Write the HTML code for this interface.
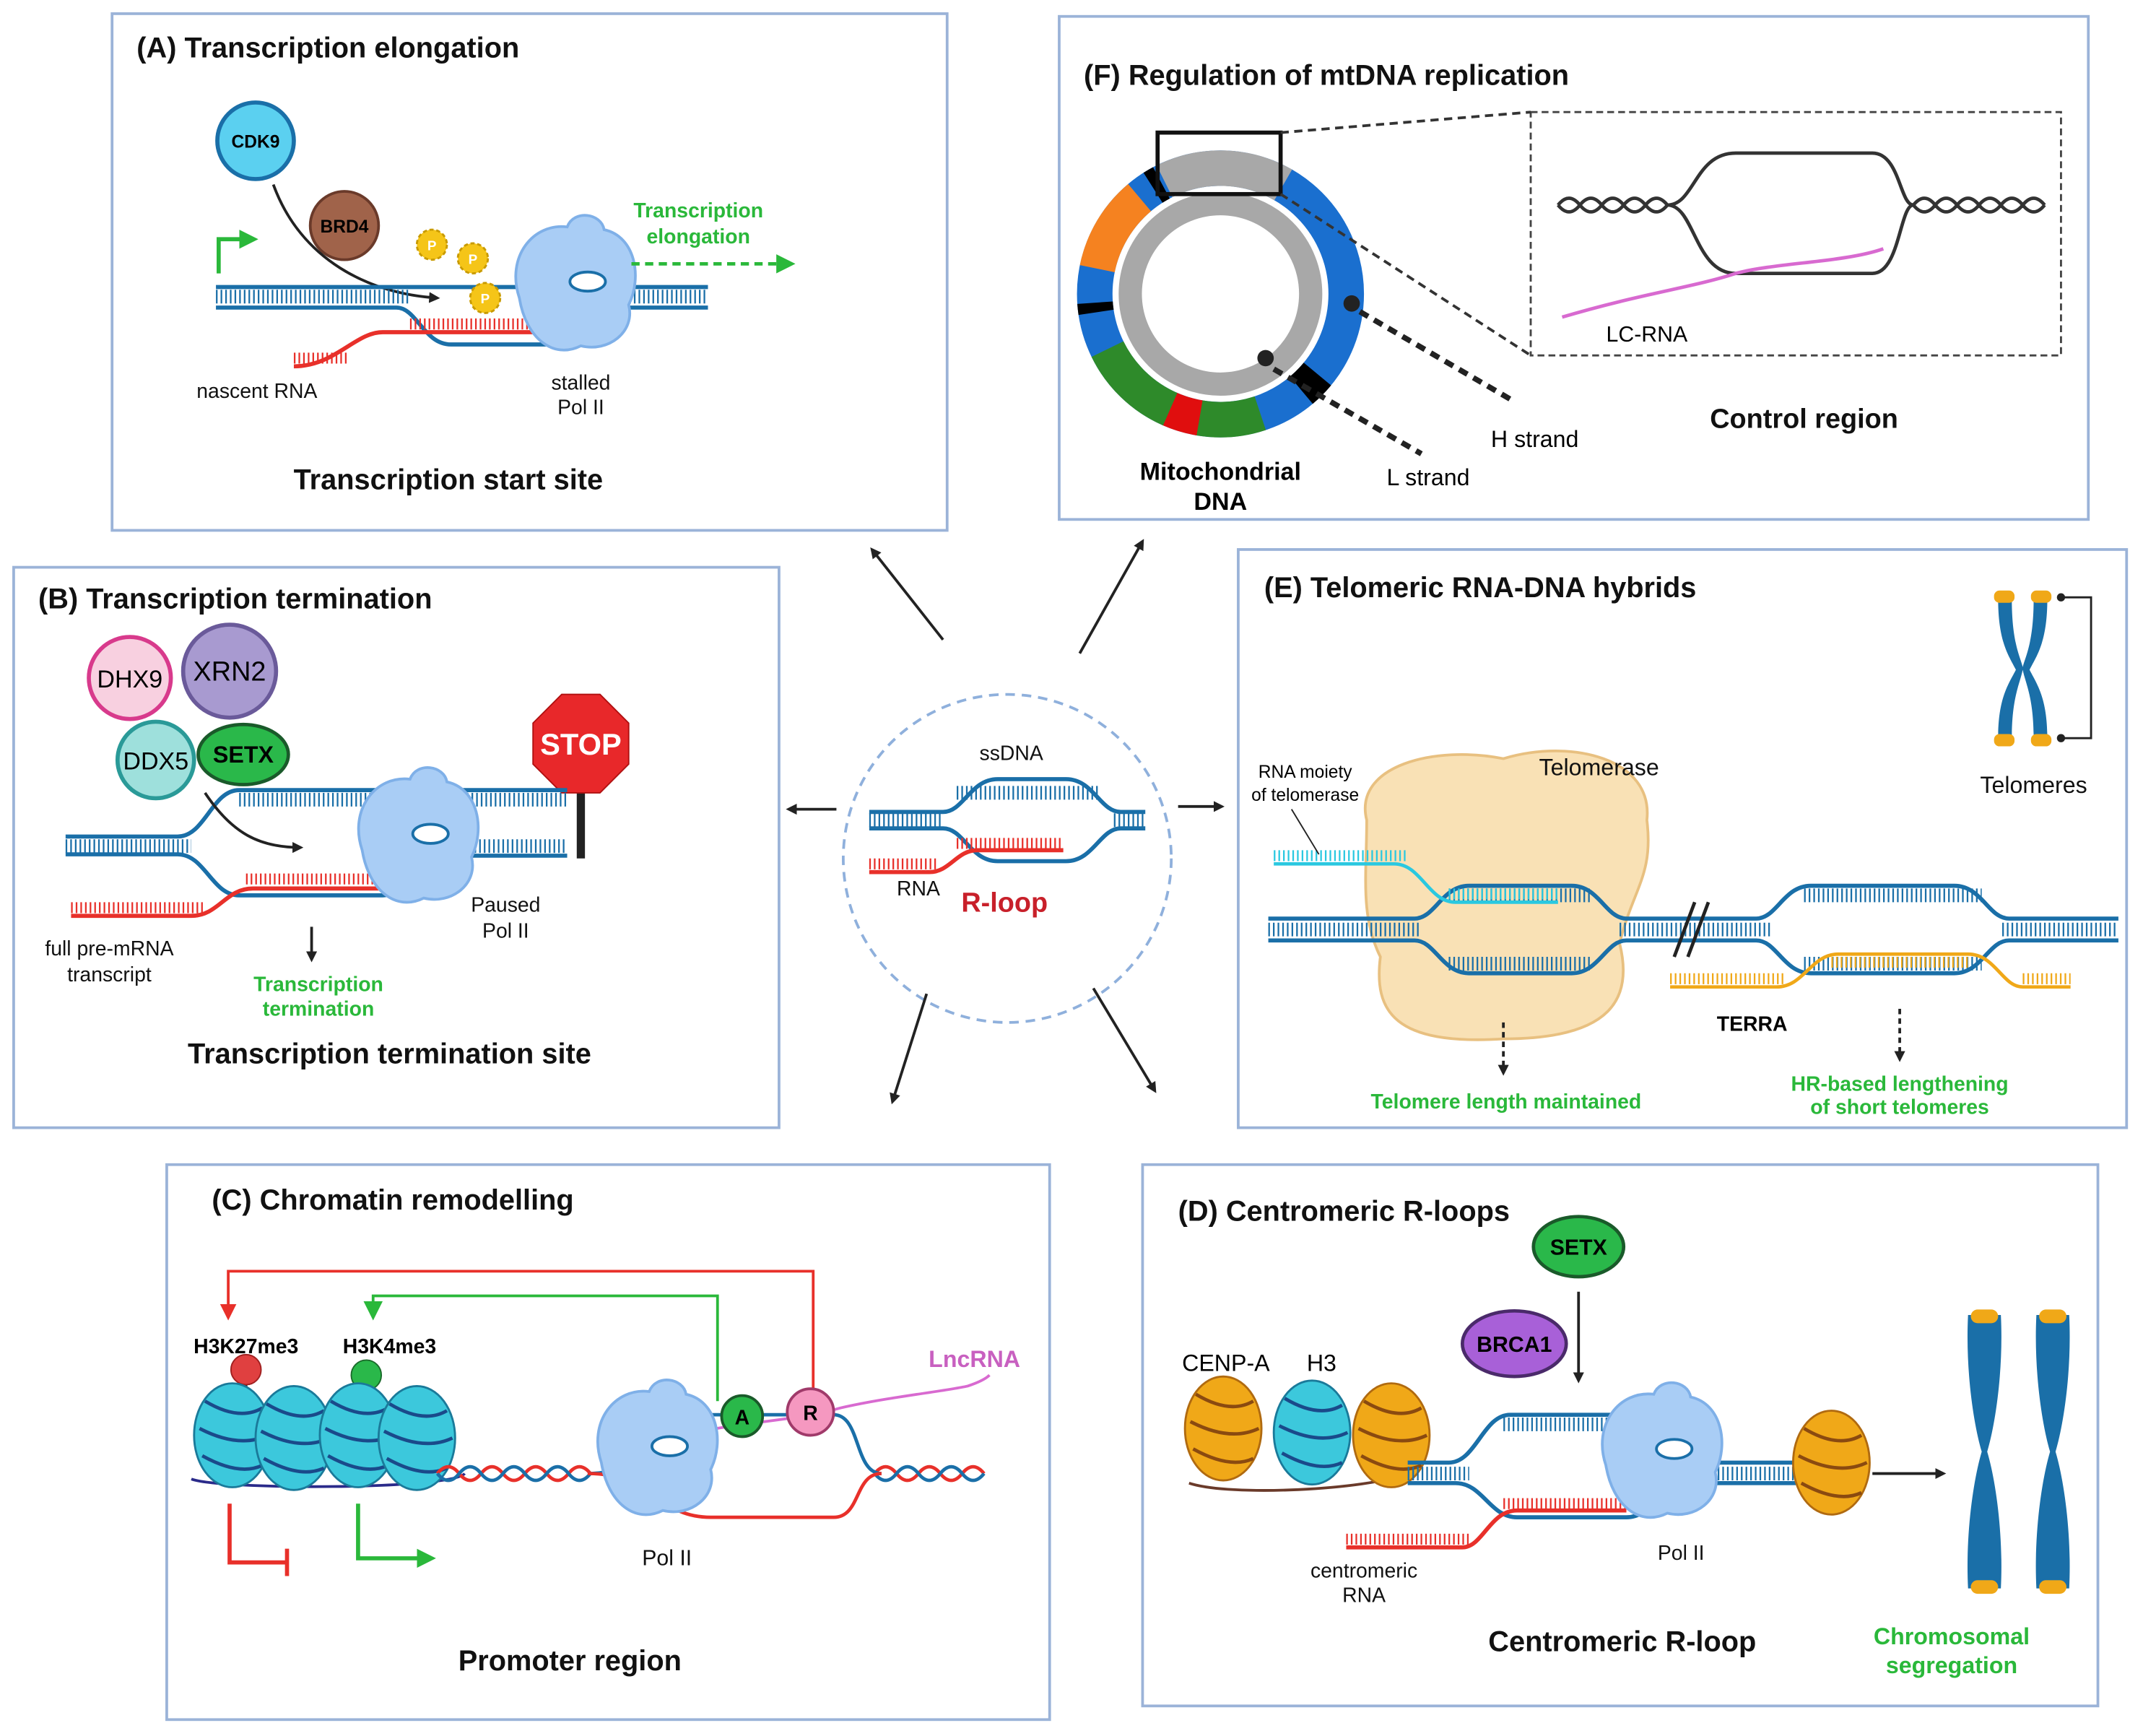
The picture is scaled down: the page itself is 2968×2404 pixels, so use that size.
<!DOCTYPE html>
<html><head><meta charset="utf-8"><style>
html,body{margin:0;padding:0;background:#fff}
svg{display:block}
text{font-family:"Liberation Sans",sans-serif}
.t{font-weight:bold;font-size:21px;fill:#111}
.b{font-weight:bold;font-size:21px;fill:#111;text-anchor:middle}
.s{font-size:15px;fill:#111;text-anchor:middle}
.g{font-weight:bold;font-size:15px;fill:#2ab83a;text-anchor:middle}
.panel{fill:#fff;stroke:#9bb3d8;stroke-width:2}
.dl{stroke:#1a6fa8;stroke-width:3;fill:none}
.tk{stroke:#1a6fa8;stroke-width:10;stroke-dasharray:1.2 2.2;fill:none}
.rk{stroke:#e8302a;stroke-width:8;stroke-dasharray:1.2 2.2;fill:none}
.rl{stroke:#e8302a;stroke-width:3;fill:none}
</style></head><body>
<svg width="2968" height="2404" viewBox="0 0 1568 1270" preserveAspectRatio="none" xmlns="http://www.w3.org/2000/svg">
<defs>
<marker id="ar" markerWidth="8" markerHeight="8" refX="6" refY="4" orient="auto" markerUnits="userSpaceOnUse"><path d="M0,0 L8,4 L0,8z" fill="#222"/></marker>
<marker id="ag" markerWidth="14" markerHeight="14" refX="10" refY="7" orient="auto" markerUnits="userSpaceOnUse"><path d="M0,0 L14,7 L0,14z" fill="#2ab83a"/></marker>
<marker id="arr" markerWidth="12" markerHeight="12" refX="8" refY="6" orient="auto" markerUnits="userSpaceOnUse"><path d="M0,0 L12,6 L0,12z" fill="#e8302a"/></marker>
<g id="pol">
<path d="M-40,10 C-50,-20 -30,-45 -5,-42 C0,-55 20,-52 22,-40 C45,-35 50,-5 40,15 C45,35 25,50 5,45 C-15,55 -35,40 -40,10z" fill="#a9cdf5" stroke="#7fb0e8" stroke-width="2"/>
<ellipse cx="10" cy="-2" rx="13" ry="7" fill="#fff" stroke="#1a6fa8" stroke-width="2"/>
</g>
<g id="nuc">
<ellipse cx="0" cy="0" rx="28" ry="38" fill="#3cc8dc" stroke="#1a7a9a" stroke-width="1.5"/>
<path d="M-20,-25 Q5,-10 22,-20 M-24,-5 Q5,10 26,0 M-22,15 Q5,30 22,22" stroke="#1a4a8a" stroke-width="2.5" fill="none"/>
</g>
<g id="nuco">
<ellipse cx="0" cy="0" rx="28" ry="38" fill="#f0a818" stroke="#b06a10" stroke-width="1.5"/>
<path d="M-20,-25 Q5,-10 22,-20 M-24,-5 Q5,10 26,0 M-22,15 Q5,30 22,22" stroke="#8a4a10" stroke-width="2.5" fill="none"/>
</g>
<g id="chrom">
<path d="M-12,0 C-14,40 -8,80 -2,100 C-8,120 -14,160 -12,200 L12,200 C14,160 8,120 2,100 C8,80 14,40 12,0z" fill="#1a6fa8"/>
<rect x="-10" y="-4" width="20" height="10" rx="5" fill="#f0a818"/>
<rect x="-10" y="194" width="20" height="10" rx="5" fill="#f0a818"/>
</g>
</defs>

<rect class="panel" x="82" y="10" width="611" height="378"/>
<rect class="panel" x="775" y="12" width="753" height="368"/>
<rect class="panel" x="10" y="415" width="560" height="410"/>
<rect class="panel" x="906" y="402" width="650" height="423"/>
<rect class="panel" x="122" y="852" width="646" height="406"/>
<rect class="panel" x="836" y="852" width="699" height="396"/>

<circle cx="737" cy="628" r="120" fill="none" stroke="#8fb0dc" stroke-width="2" stroke-dasharray="7 5"/>
<path class="dl" d="M636,594 H690 C705,594 710,570 730,570 H780 C800,570 805,594 820,594 H838"/>
<path class="tk" d="M636,600 H690 M700,580 H805 M815,600 H838"/>
<path class="dl" d="M636,606 H690 C705,606 710,630 730,630 H780 C800,630 805,606 820,606 H838"/>
<path class="rk" d="M700,617 H778"/>
<path class="rl" d="M636,638 H680 C695,638 700,622 715,622 H778"/>
<path class="rk" d="M636,632 H685"/>
<text class="s" x="740" y="556">ssDNA</text>
<text class="s" x="672" y="655">RNA</text>
<text x="735" y="667" style="font-weight:bold;font-size:20px;fill:#c8202a;text-anchor:middle">R-loop</text>
<g stroke="#222" stroke-width="2" marker-end="url(#ar)">
<line x1="690" y1="468" x2="638" y2="402"/><line x1="790" y1="478" x2="836" y2="396"/>
<line x1="612" y1="592" x2="577" y2="592"/><line x1="862" y1="590" x2="894" y2="590"/>
<line x1="678" y1="727" x2="653" y2="806"/><line x1="800" y1="723" x2="845" y2="798"/>
</g>

<!-- A -->
<text class="t" x="100" y="42">(A) Transcription elongation</text>
<circle cx="187" cy="103" r="28" fill="#5bd0f0" stroke="#1a6fa8" stroke-width="3"/>
<text x="187" y="108" style="font-weight:bold;font-size:13px;text-anchor:middle">CDK9</text>
<circle cx="252" cy="165" r="25" fill="#a0634a" stroke="#6a3a2a" stroke-width="2"/>
<text x="252" y="170" style="font-weight:bold;font-size:13px;text-anchor:middle">BRD4</text>
<path d="M200,135 C220,190 270,215 320,218" stroke="#222" stroke-width="2" fill="none" marker-end="url(#ar)"/>
<path class="dl" d="M158,210 H518"/><path class="tk" d="M158,217 H300 M440,217 H518"/>
<path class="dl" d="M158,225 H290 C305,225 310,252 330,252 H420 C435,252 440,225 455,225 H518"/>
<path class="rk" d="M300,237 H430"/>
<path class="rl" d="M215,268 C245,268 260,243 280,243 H430"/>
<path class="rk" d="M215,262 H255"/>
<path d="M160,200 V175 H185" stroke="#2ab83a" stroke-width="3" fill="none" marker-end="url(#ag)"/>
<use href="#pol" x="420" y="208"/>
<g fill="#f5c518" stroke="#c89a00" stroke-width="1.5" stroke-dasharray="3 2"><circle cx="316" cy="179" r="11"/><circle cx="346" cy="189" r="11"/><circle cx="355" cy="218" r="11"/></g>
<g style="font-size:10px;fill:#fff;font-weight:bold;text-anchor:middle"><text x="316" y="183">P</text><text x="346" y="193">P</text><text x="355" y="222">P</text></g>
<line x1="462" y1="193" x2="578" y2="193" stroke="#2ab83a" stroke-width="2.5" stroke-dasharray="6 4" marker-end="url(#ag)"/>
<text class="g" x="511" y="159">Transcription</text><text class="g" x="511" y="178">elongation</text>
<text class="s" x="188" y="291">nascent RNA</text>
<text class="s" x="425" y="285">stalled</text><text class="s" x="425" y="303">Pol II</text>
<text class="b" x="328" y="358">Transcription start site</text>

<!-- F -->
<text class="t" x="793" y="62">(F) Regulation of mtDNA replication</text>
<g fill="none" stroke-width="26" transform="translate(893,215)">
<circle r="92" stroke="#1a6fcf"/>
<circle r="92" pathLength="360" stroke="#000" stroke-dasharray="10 350" transform="rotate(40)"/>
<circle r="92" pathLength="360" stroke="#2e8a2a" stroke-dasharray="28 332" transform="rotate(72)"/>
<circle r="92" pathLength="360" stroke="#e00e0e" stroke-dasharray="14 346" transform="rotate(100)"/>
<circle r="92" pathLength="360" stroke="#2e8a2a" stroke-dasharray="40 320" transform="rotate(114)"/>
<circle r="92" pathLength="360" stroke="#f58220" stroke-dasharray="38 322" transform="rotate(192)"/>
<circle r="92" pathLength="360" stroke="#000" stroke-dasharray="4 356" transform="rotate(172)"/>
<circle r="92" pathLength="360" stroke="#000" stroke-dasharray="4 356" transform="rotate(238)"/>
<circle r="92" pathLength="360" stroke="#a8a8a8" stroke-dasharray="56 304" transform="rotate(244)"/>
<circle r="66" stroke="#a8a8a8" stroke-width="17"/>
</g>
<circle cx="989" cy="222" r="6" fill="#222"/><circle cx="926" cy="262" r="6" fill="#222"/>
<rect x="847" y="97" width="90" height="45" fill="none" stroke="#111" stroke-width="3"/>
<rect x="1120" y="82" width="388" height="178" fill="none" stroke="#444" stroke-width="1.5" stroke-dasharray="5 3"/>
<line x1="937" y1="97" x2="1120" y2="82" stroke="#333" stroke-width="2" stroke-dasharray="6 4"/>
<line x1="937" y1="142" x2="1120" y2="260" stroke="#333" stroke-width="2" stroke-dasharray="6 4"/>
<line x1="995" y1="228" x2="1105" y2="292" stroke="#222" stroke-width="4" stroke-dasharray="7 5"/>
<line x1="932" y1="270" x2="1040" y2="332" stroke="#222" stroke-width="4" stroke-dasharray="7 5"/>
<path d="M1140,150 q8,-10 16,0 t16,0 t16,0 t16,0 t16,0 M1140,150 q8,10 16,0 t16,0 t16,0 t16,0 t16,0" stroke="#333" stroke-width="2.5" fill="none"/>
<path d="M1400,150 q8,-10 16,0 t16,0 t16,0 t16,0 t16,0 t16,0 M1400,150 q8,10 16,0 t16,0 t16,0 t16,0 t16,0 t16,0" stroke="#333" stroke-width="2.5" fill="none"/>
<path d="M1220,150 C1240,150 1240,112 1270,112 H1370 C1390,112 1390,150 1400,150" stroke="#333" stroke-width="2.5" fill="none"/>
<path d="M1220,150 C1240,150 1240,200 1270,200 H1370 C1390,200 1390,150 1400,150" stroke="#333" stroke-width="2.5" fill="none"/>
<path d="M1143,232 C1200,215 1240,210 1270,200 C1300,192 1350,192 1378,182" stroke="#d86ad0" stroke-width="2.5" fill="none"/>
<text x="1205" y="250" style="font-size:16px;text-anchor:middle">LC-RNA</text>
<text class="b" x="1320" y="313" style="font-size:20px">Control region</text>
<text x="1123" y="327" style="font-size:17px;text-anchor:middle">H strand</text>
<text x="1045" y="355" style="font-size:17px;text-anchor:middle">L strand</text>
<text x="893" y="351" style="font-weight:bold;font-size:18px;text-anchor:middle">Mitochondrial</text>
<text x="893" y="373" style="font-weight:bold;font-size:18px;text-anchor:middle">DNA</text>

<!-- B -->
<text class="t" x="28" y="445">(B) Transcription termination</text>
<circle cx="95" cy="496" r="30" fill="#f8d0e0" stroke="#d83a8c" stroke-width="3"/>
<circle cx="168" cy="491" r="34" fill="#a89ad0" stroke="#6a5a9a" stroke-width="3"/>
<circle cx="114" cy="556" r="28" fill="#9ee0dc" stroke="#2a9a98" stroke-width="3"/>
<ellipse cx="178" cy="552" rx="33" ry="22" fill="#2ab84a" stroke="#1a5a2a" stroke-width="2.5"/>
<text x="95" y="503" style="font-size:18px;text-anchor:middle">DHX9</text>
<text x="168" y="498" style="font-size:20px;text-anchor:middle">XRN2</text>
<text x="114" y="563" style="font-size:18px;text-anchor:middle">DDX5</text>
<text x="178" y="558" style="font-weight:bold;font-size:17px;text-anchor:middle">SETX</text>
<line x1="425" y1="570" x2="425" y2="628" stroke="#222" stroke-width="6"/>
<polygon points="411,508 439,508 460,529 460,559 439,580 411,580 390,559 390,529" fill="#e8282a" stroke="#b01010" stroke-width="1"/>
<text x="425" y="552" style="font-weight:bold;font-size:22px;fill:#fff;text-anchor:middle">STOP</text>
<path class="dl" d="M48,612 H130 C150,612 155,578 175,578 H415"/>
<path class="tk" d="M48,619 H140 M175,585 H415"/>
<path class="dl" d="M48,625 H130 C150,625 155,655 175,655 H280 C300,655 300,626 320,626 H415"/>
<path class="tk" d="M320,619 H415"/>
<path class="rk" d="M180,643 H280"/>
<path class="rl" d="M52,670 H140 C160,670 165,650 185,650 H280"/>
<path class="rk" d="M52,664 H150"/>
<path d="M150,580 C170,610 190,620 220,620" stroke="#222" stroke-width="2" fill="none" marker-end="url(#ar)"/>
<use href="#pol" x="305" y="612"/>
<text class="s" x="370" y="667">Paused</text><text class="s" x="370" y="686">Pol II</text>
<text class="s" x="80" y="699">full pre-mRNA</text><text class="s" x="80" y="718">transcript</text>
<line x1="228" y1="678" x2="228" y2="702" stroke="#222" stroke-width="2" marker-end="url(#ar)"/>
<text class="g" x="233" y="725">Transcription</text><text class="g" x="233" y="743">termination</text>
<text class="b" x="285" y="778">Transcription termination site</text>

<!-- E -->
<text class="t" x="925" y="437">(E) Telomeric RNA-DNA hybrids</text>
<path d="M1000,600 C990,560 1050,545 1100,555 C1150,540 1210,555 1205,600 C1210,640 1195,650 1185,690 C1195,730 1180,760 1100,760 C1020,765 1005,740 1010,700 C995,670 1000,640 1000,600z" fill="#f8dca8" fill-opacity="0.85" stroke="#e8c080" stroke-width="2"/>
<path class="dl" d="M928,672 H1035 C1050,672 1055,648 1075,648 H1150 C1170,648 1175,672 1190,672 H1285 C1300,672 1305,648 1325,648 H1430 C1450,648 1455,672 1470,672 H1550"/>
<path class="tk" d="M928,680 H1040 M1060,655 H1165 M1185,680 H1295 M1320,655 H1450 M1465,680 H1550"/>
<path class="dl" d="M928,688 H1035 C1050,688 1055,712 1075,712 H1150 C1170,712 1175,688 1190,688 H1285 C1300,688 1305,712 1325,712 H1430 C1450,712 1455,688 1470,688 H1550"/>
<path class="tk" d="M1060,705 H1165 M1320,705 H1450"/>
<path d="M932,632 H1020 C1040,632 1045,660 1065,660 H1140" stroke="#2ac8e0" stroke-width="2.5" fill="none"/>
<path d="M932,626 H1030 M1060,654 H1140" stroke="#2ac8e0" stroke-width="8" stroke-dasharray="1.2 2.2"/>
<path d="M1222,722 H1300 C1320,722 1325,698 1345,698 H1440 C1460,698 1465,722 1480,722 H1515" stroke="#f0a818" stroke-width="2.5" fill="none"/>
<path d="M1222,716 H1305 M1340,704 H1440 M1480,716 H1515" stroke="#f0a818" stroke-width="8" stroke-dasharray="1.2 2.2"/>
<path d="M1225,700 L1240,660 M1235,700 L1250,660" stroke="#222" stroke-width="2.5"/>
<text class="s" x="1170" y="567" style="font-size:17px">Telomerase</text>
<text x="955" y="569" style="font-size:13px;text-anchor:middle">RNA moiety</text>
<text x="955" y="586" style="font-size:13px;text-anchor:middle">of telomerase</text>
<line x1="945" y1="592" x2="965" y2="625" stroke="#222" stroke-width="1"/>
<text x="1282" y="754" style="font-weight:bold;font-size:15px;text-anchor:middle">TERRA</text>
<line x1="1100" y1="748" x2="1100" y2="785" stroke="#222" stroke-width="2" stroke-dasharray="4 3" marker-end="url(#ar)"/>
<line x1="1390" y1="738" x2="1390" y2="775" stroke="#222" stroke-width="2" stroke-dasharray="4 3" marker-end="url(#ar)"/>
<text class="g" x="1102" y="811">Telomere length maintained</text>
<text class="g" x="1390" y="798">HR-based lengthening</text><text class="g" x="1390" y="815">of short telomeres</text>
<path d="M1462,438 C1462,470 1470,480 1475,490 C1470,500 1462,510 1462,540 L1472,540 C1472,510 1478,500 1480,490 C1482,500 1488,510 1488,540 L1498,540 C1498,510 1490,500 1485,490 C1490,480 1498,470 1498,438 L1488,438 C1488,470 1482,480 1480,488 C1478,480 1472,470 1472,438z" fill="#1a6fa8"/>
<g fill="#f0a818"><rect x="1459" y="432" width="15" height="9" rx="4"/><rect x="1486" y="432" width="15" height="9" rx="4"/><rect x="1459" y="537" width="15" height="9" rx="4"/><rect x="1486" y="537" width="15" height="9" rx="4"/></g>
<path d="M1508,437 H1530 V540 H1508" stroke="#222" stroke-width="1.5" fill="none"/>
<circle cx="1508" cy="437" r="3" fill="#222"/><circle cx="1508" cy="540" r="3" fill="#222"/>
<text class="s" x="1488" y="580" style="font-size:17px">Telomeres</text>

<!-- C -->
<text class="t" x="155" y="885">(C) Chromatin remodelling</text>
<path d="M595,1025 V930 H167 V962" stroke="#e8302a" stroke-width="2" fill="none" marker-end="url(#arr)"/>
<path d="M525,1025 V948 H273 V962" stroke="#2ab83a" stroke-width="2" fill="none" marker-end="url(#ag)"/>
<text x="180" y="990" style="font-weight:bold;font-size:15px;text-anchor:middle">H3K27me3</text>
<text x="285" y="990" style="font-weight:bold;font-size:15px;text-anchor:middle">H3K4me3</text>
<line x1="180" y1="1010" x2="180" y2="1030" stroke="#222" stroke-width="2"/><circle cx="180" cy="1002" r="11" fill="#e04040" stroke="#a02020"/>
<line x1="268" y1="1015" x2="268" y2="1030" stroke="#222" stroke-width="2"/><circle cx="268" cy="1006" r="11" fill="#2ab84a" stroke="#1a6a2a"/>
<path d="M140,1082 C160,1090 330,1090 340,1078" stroke="#2a2a8a" stroke-width="2" fill="none"/>
<use href="#nuc" x="170" y="1050"/><use href="#nuc" x="215" y="1052"/><use href="#nuc" x="262" y="1050"/><use href="#nuc" x="305" y="1052"/>
<path d="M320,1078 q8,-10 16,0 t16,0 t16,0 t16,0 t16,0 t16,0 t16,0" stroke="#e8302a" stroke-width="2.5" fill="none"/>
<path d="M320,1078 q8,10 16,0 t16,0 t16,0 t16,0 t16,0 t16,0 t16,0" stroke="#1a6fa8" stroke-width="2.5" fill="none"/>
<path d="M640,1078 q8,-10 16,0 t16,0 t16,0 t16,0 t16,0 " stroke="#e8302a" stroke-width="2.5" fill="none"/>
<path d="M640,1078 q8,10 16,0 t16,0 t16,0 t16,0 t16,0" stroke="#1a6fa8" stroke-width="2.5" fill="none"/>
<path d="M430,1078 C480,1078 480,1035 520,1035 H610 C630,1035 625,1078 645,1078" stroke="#1a6fa8" stroke-width="2.5" fill="none"/>
<path d="M430,1078 C480,1078 480,1110 520,1110 H610 C630,1110 625,1078 645,1078" stroke="#e8302a" stroke-width="2.5" fill="none"/>
<path d="M500,1050 C540,1040 580,1040 615,1030 C650,1022 690,1018 708,1014 Q720,1010 724,1006" stroke="#d86ad0" stroke-width="2" fill="none"/>
<use href="#pol" x="480" y="1060"/>
<circle cx="543" cy="1036" r="15" fill="#2ab84a" stroke="#1a5a2a" stroke-width="2"/>
<circle cx="593" cy="1033" r="17" fill="#f598c0" stroke="#a03a6a" stroke-width="2"/>
<text x="543" y="1042" style="font-weight:bold;font-size:15px;text-anchor:middle">A</text>
<text x="593" y="1039" style="font-weight:bold;font-size:15px;text-anchor:middle">R</text>
<text x="713" y="1000" style="font-weight:bold;font-size:17px;fill:#c860c0;text-anchor:middle">LncRNA</text>
<path d="M168,1100 V1143 H210 M210,1133 V1153" stroke="#e8302a" stroke-width="3" fill="none"/>
<path d="M262,1100 V1140 H315" stroke="#2ab83a" stroke-width="3" fill="none" marker-end="url(#ag)"/>
<text class="s" x="488" y="1145" style="font-size:16px">Pol II</text>
<text class="b" x="417" y="1222">Promoter region</text>

<!-- D -->
<text class="t" x="862" y="893">(D) Centromeric R-loops</text>
<ellipse cx="1155" cy="912" rx="33" ry="22" fill="#2ab84a" stroke="#1a5a2a" stroke-width="2.5"/>
<text x="1155" y="918" style="font-weight:bold;font-size:16px;text-anchor:middle">SETX</text>
<ellipse cx="1108" cy="983" rx="38" ry="24" fill="#a860d8" stroke="#4a2a6a" stroke-width="2.5"/>
<text x="1108" y="989" style="font-weight:bold;font-size:16px;text-anchor:middle">BRCA1</text>
<line x1="1155" y1="945" x2="1155" y2="1010" stroke="#222" stroke-width="2" marker-end="url(#ar)"/>
<text x="897" y="1003" style="font-size:17px;text-anchor:middle">CENP-A</text>
<text x="967" y="1003" style="font-size:17px;text-anchor:middle">H3</text>
<path d="M870,1085 C900,1095 1000,1090 1030,1078" stroke="#6a3a2a" stroke-width="2" fill="none"/>
<use href="#nuco" x="895" y="1045"/><use href="#nuc" x="960" y="1048"/><use href="#nuco" x="1018" y="1050"/>
<path class="dl" d="M1030,1070 H1060 C1080,1070 1085,1035 1105,1035 H1200 M1250,1070 H1330"/>
<path class="tk" d="M1030,1078 H1075 M1100,1042 H1200 M1250,1078 H1330"/>
<path class="dl" d="M1030,1085 H1065 C1085,1085 1090,1110 1110,1110 H1190 C1210,1110 1215,1085 1235,1085 H1330"/>
<path class="rk" d="M1100,1100 H1190"/>
<path class="rl" d="M985,1132 H1070 C1085,1132 1090,1105 1110,1105 H1190"/>
<path class="rk" d="M985,1126 H1075"/>
<use href="#pol" x="1215" y="1062"/>
<use href="#nuco" x="1340" y="1070"/>
<text class="s" x="998" y="1154">centromeric</text><text class="s" x="998" y="1172">RNA</text>
<text class="s" x="1230" y="1141">Pol II</text>
<text class="b" x="1187" y="1208">Centromeric R-loop</text>
<line x1="1370" y1="1078" x2="1422" y2="1078" stroke="#222" stroke-width="2" marker-end="url(#ar)"/>
<use href="#chrom" x="1452" y="962"/><use href="#chrom" x="1502" y="962"/>
<text class="g" x="1428" y="1203" style="font-size:17px">Chromosomal</text>
<text class="g" x="1428" y="1224" style="font-size:17px">segregation</text>
</svg>
</body></html>
